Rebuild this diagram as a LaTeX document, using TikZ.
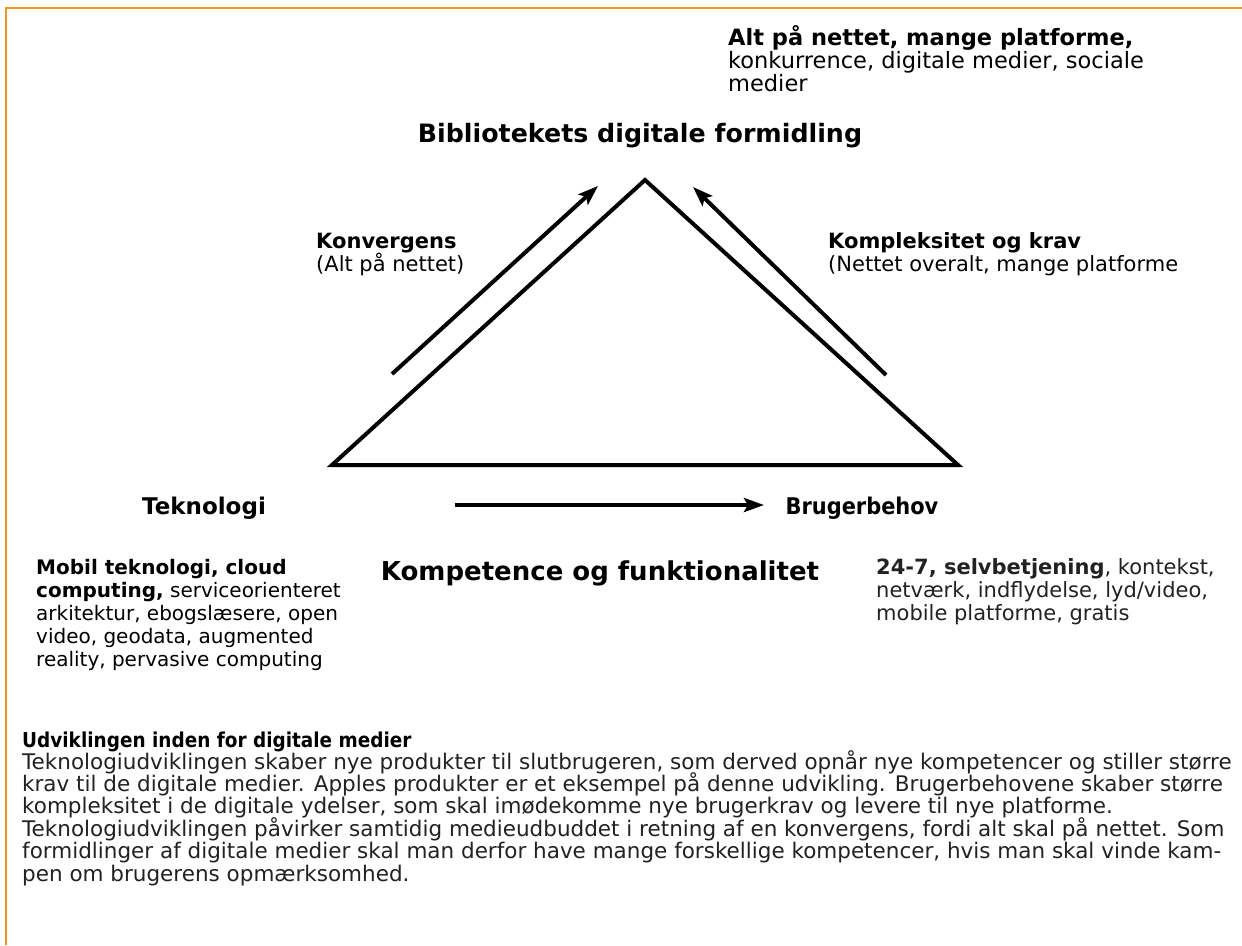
\documentclass[tikz,border=0pt]{standalone}
\usepackage{fontspec}
\setmainfont{DejaVu Sans}
\usetikzlibrary{arrows.meta}
\definecolor{frame}{RGB}{233,150,30}
\definecolor{body}{RGB}{34,34,34}
\lineskiplimit=-100pt
\lineskip=0pt
\tikzset{
  txt/.style={inner sep=0pt, align=left, anchor=base west},
  head/.style={inner sep=0pt, anchor=base},
  tri/.style={line width=4pt, line join=miter},
  conn/.style={line width=4pt, -{Stealth[length=20pt,width=14pt,inset=4pt]}},
}
\begin{document}
\begin{tikzpicture}[x=1pt,y=-1pt]
\path[use as bounding box, fill=white] (0,0) rectangle (1242,945);
\draw[frame, line width=2.5pt] (6,945) -- (6,8) -- (1242,8);

% triangle
\coordinate (apex) at (645,180);
\coordinate (bl) at (332,465);
\coordinate (br) at (958,465);
\draw[tri] (bl) -- (apex) -- (br) -- cycle;

% arrows
\coordinate (la0) at (392,374);
\coordinate (la1) at (598,186);
\coordinate (ra0) at (886,375);
\coordinate (ra1) at (693,187);
\coordinate (ha0) at (455,505);
\coordinate (ha1) at (764,505);
\draw[conn] (la0) -- (la1);
\draw[conn] (ra0) -- (ra1);
\draw[conn] (ha0) -- (ha1);

% texts (base anchor = baseline of the last line)
\node[txt, font=\fontsize{22.5}{23}\selectfont] (topnote) at (728,91) {\textbf{Alt på nettet, mange platforme,}\\konkurrence, digitale medier, sociale\\medier};
\node[head, font=\fontsize{25.3}{28}\selectfont\bfseries] (title) at (640,142) {Bibliotekets digitale formidling};
\node[txt, font=\fontsize{21}{23}\selectfont] (konv) at (316,271) {\textbf{Konvergens}\\(Alt på nettet)};
\node[txt, font=\fontsize{21}{23}\selectfont] (kompl) at (828,271) {\textbf{Kompleksitet og krav}\\(Nettet overalt, mange platforme};
\node[head, font=\fontsize{23}{28}\selectfont\bfseries] (tek) at (204,514) {Teknologi};
\node[head, font=\fontsize{23}{28}\selectfont\bfseries\addfontfeatures{FakeStretch=0.91}] (brug) at (862,514) {Brugerbehov};
\node[head, font=\fontsize{26}{28}\selectfont\bfseries] (komp) at (600,580) {Kompetence og funktionalitet};
\node[txt, font=\fontsize{20}{23.2}\selectfont] (tekdesc) at (36,666.8) {\textbf{Mobil teknologi, cloud}\\\textbf{computing,} serviceorienteret\\arkitektur, ebogslæsere, open\\video, geodata, augmented\\reality, pervasive computing};
\node[txt, text=body, font=\fontsize{21}{23}\selectfont] (brugdesc) at (876,620) {\textbf{24-7, selvbetjening}, kontekst,\\netværk, indflydelse, lyd/video,\\mobile platforme, gratis};
\node[txt, font=\fontsize{20.5}{22}\selectfont\bfseries\addfontfeatures{FakeStretch=0.9}] (udvhead) at (22,747) {Udviklingen inden for digitale medier};
\node[txt, text=body, font=\fontsize{21.5}{22.4}\selectfont] (udvbody) at (22,881) {Teknologiudviklingen skaber nye produkter til slutbrugeren, som derved opnår nye kompetencer og stiller større\\krav til de digitale medier. Apples produkter er et eksempel på denne udvikling. Brugerbehovene skaber større\\kompleksitet i de digitale ydelser, som skal imødekomme nye brugerkrav og levere til nye platforme.\\Teknologiudviklingen påvirker samtidig medieudbuddet i retning af en konvergens, fordi alt skal på nettet. Som\\formidlinger af digitale medier skal man derfor have mange forskellige kompetencer, hvis man skal vinde kam-\\pen om brugerens opmærksomhed.};
\end{tikzpicture}
\end{document}
